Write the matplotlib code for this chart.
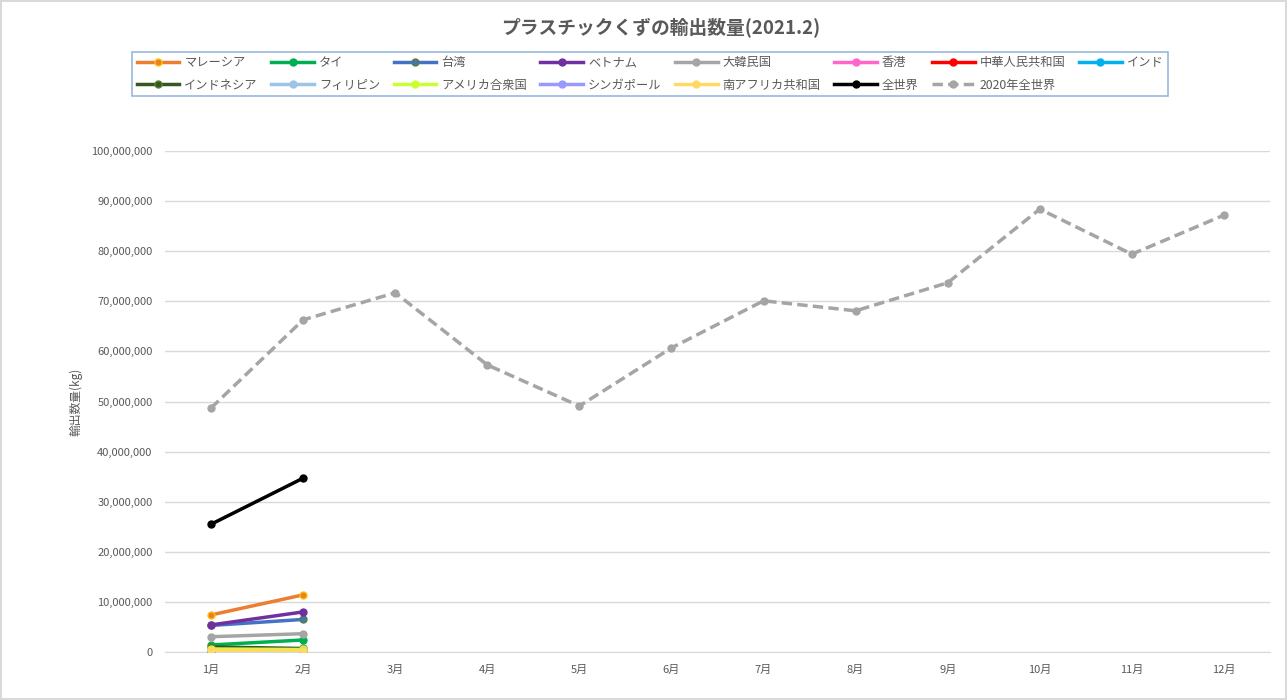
import numpy as np
import matplotlib
matplotlib.use('Agg')
import matplotlib.pyplot as plt
from matplotlib.ticker import FuncFormatter, MultipleLocator

plt.rcParams['font.family'] = ['Noto Sans CJK JP', 'DejaVu Sans']

months = ['1月', '2月', '3月', '4月', '5月', '6月', '7月', '8月', '9月', '10月', '11月', '12月']

# 2021 export volume (kg), Jan-Feb only
countries = ['マレーシア', 'タイ', '台湾', 'ベトナム', '大韓民国', '香港', '中華人民共和国', 'インド',
             'インドネシア', 'フィリピン', 'アメリカ合衆国', 'シンガポール', '南アフリカ共和国', '全世界']
values_2021 = [
    [7400000, 11400000],
    [1400000, 2400000],
    [5300000, 6500000],
    [5400000, 8000000],
    [3050000, 3650000],
    [300000, 200000],
    [100000, 50000],
    [200000, 150000],
    [1000000, 700000],
    [400000, 350000],
    [600000, 500000],
    [150000, 100000],
    [300000, 250000],
    [25500000, 34700000],
]
world_2020 = [48700000, 66300000, 71700000, 57300000, 49100000, 60700000,
              70100000, 68100000, 73700000, 88400000, 79400000, 87200000]

colors = ['#ED7D31', '#00B050', '#4472C4', '#7030A0', '#A5A5A5', '#FF66CC', '#FF0000', '#00B0F0',
          '#375623', '#9DC3E6', '#CCFF33', '#9999FF', '#FFD966', '#000000']
mcolors = ['#FFC000', '#00B050', '#548235', '#7030A0', '#A5A5A5', '#FF66CC', '#FF0000', '#00B0F0',
           '#548235', '#9DC3E6', '#CCFF33', '#9999FF', '#FFD966', '#000000']

fig = plt.figure(figsize=(12.87, 7), dpi=100)
fig.patch.set_edgecolor('#D9D9D9')
fig.patch.set_linewidth(1.5)
ax = fig.add_axes([165/1287, 1-652/700, 1105/1287, 501/700])

x = np.arange(len(months))
handles = []
for name, vals, c, mc in zip(countries, values_2021, colors, mcolors):
    h, = ax.plot(x[:len(vals)], vals, '-o', color=c, lw=2.5, ms=5,
                 mfc=c, mec=mc, mew=1, label=name, zorder=3)
    handles.append(h)
h, = ax.plot(x, world_2020, '--o', color='#A5A5A5', lw=2.5, ms=5, dashes=(3, 1.5),
             label='2020年全世界', zorder=2)
handles.append(h)

ax.set_xlim(-0.5, 11.5)
ax.set_ylim(0, 100000000)
ax.set_xticks(x)
ax.set_xticklabels(months)
ax.yaxis.set_major_locator(MultipleLocator(10000000))
ax.yaxis.set_major_formatter(FuncFormatter(lambda v, p: '{:,.0f}'.format(v)))
ax.tick_params(axis='both', length=0, colors='#595959', labelsize=8, pad=9)
ax.grid(axis='y', color='#D9D9D9', lw=1)
ax.set_axisbelow(True)
for s in ['top', 'right', 'left']:
    ax.spines[s].set_visible(False)
ax.spines['bottom'].set_color('#D9D9D9')
ax.set_ylabel('輸出数量(kg)', color='#595959', fontsize=8.5, labelpad=6)

fig.text(0.513, 1-27/700, 'プラスチックくずの輸出数量(2021.2)', ha='center', va='center',
         fontsize=13.5, fontweight='bold', color='#595959')

# legend row-major order for ncol=8
order = [0, 8, 1, 9, 2, 10, 3, 11, 4, 12, 5, 13, 6, 14, 7]
leg = fig.legend([handles[i] for i in order], [handles[i].get_label() for i in order],
                 ncol=8, loc='center', bbox_to_anchor=(650/1287, 1-74/700),
                 frameon=True, fancybox=False, fontsize=8.8, handlelength=3.5,
                 columnspacing=1.1, handletextpad=0.4, borderpad=0.4, labelspacing=0.75)
leg.get_frame().set_edgecolor('#7FA7D4')
leg.get_frame().set_linewidth(1.2)
for t in leg.get_texts():
    t.set_color('#595959')

plt.savefig('out.png', dpi=100)
